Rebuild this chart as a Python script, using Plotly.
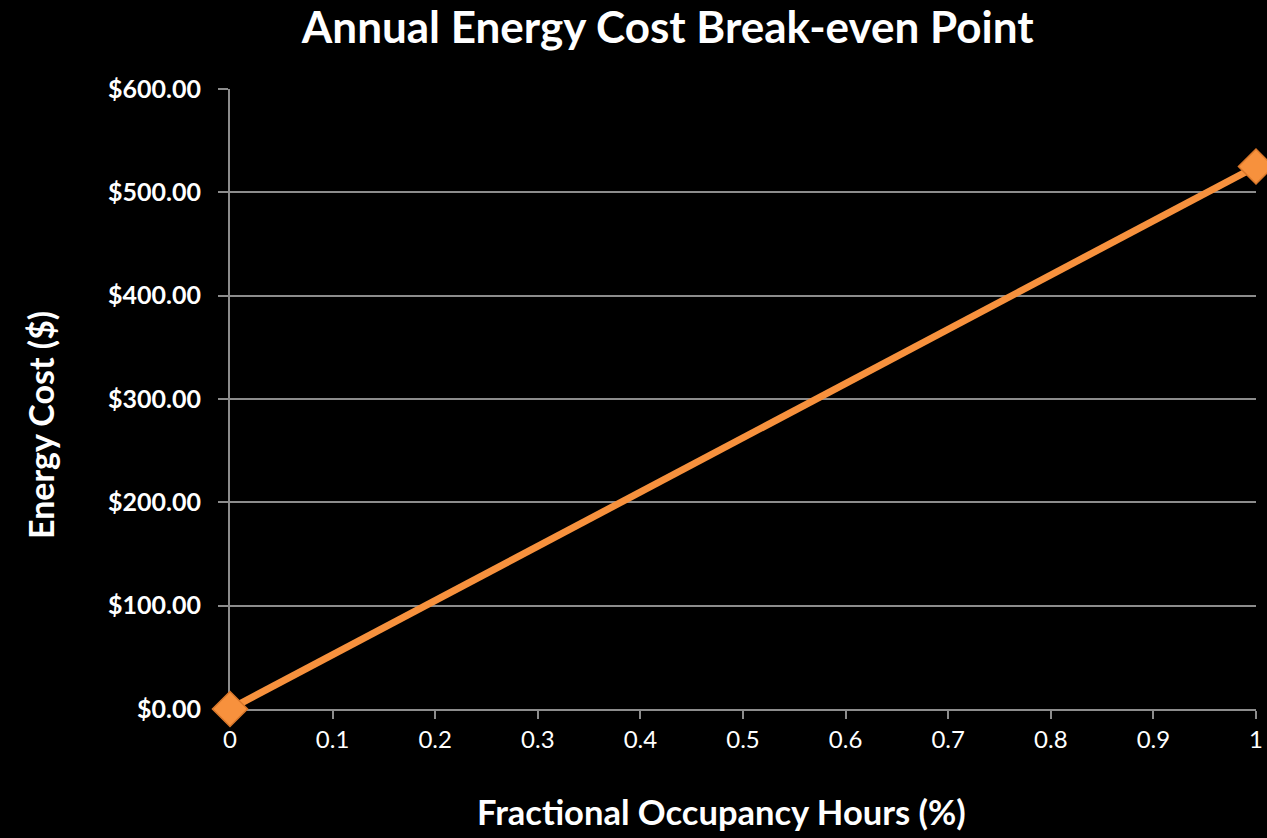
import plotly.graph_objects as go

# Break-even line: energy cost vs. fractional occupancy hours
occupancy = [0, 1]
energy_cost = [0, 525]

x_ticks = [0, 0.1, 0.2, 0.3, 0.4, 0.5, 0.6, 0.7, 0.8, 0.9, 1]
x_tick_text = ["0", "0.1", "0.2", "0.3", "0.4", "0.5", "0.6", "0.7", "0.8", "0.9", "1"]
y_ticks = [0, 100, 200, 300, 400, 500, 600]
y_tick_text = ["$0.00", "$100.00", "$200.00", "$300.00", "$400.00", "$500.00", "$600.00"]

FONT = "Lato"
ORANGE = "#F7913D"
GRID = "#8C8C8C"

W, H = 1267, 838
M = dict(l=230, r=11, t=89, b=129)

fig = go.Figure()
fig.add_trace(go.Scatter(
    x=occupancy,
    y=energy_cost,
    mode="lines+markers",
    line=dict(color=ORANGE, width=7),
    marker=dict(symbol="diamond", size=27, color=ORANGE,
                line=dict(color="#D9772A", width=1.5)),
    cliponaxis=False,
    showlegend=False,
))

fig.update_layout(
    width=W,
    height=H,
    paper_bgcolor="black",
    plot_bgcolor="black",
    margin=M,
    title=dict(
        text="<b>Annual Energy Cost Break-even Point</b>",
        x=0.527, xanchor="center",
        y=0.967, yanchor="middle",
        font=dict(family=FONT, size=44, color="white"),
    ),
    font=dict(family=FONT, color="white"),
)

# Axis titles placed as paper-anchored annotations
fig.add_annotation(
    text="<b>Fractional Occupancy Hours (%)</b>",
    xref="paper", yref="paper",
    x=(721 - M["l"]) / (W - M["l"] - M["r"]),
    y=-(812 - (H - M["b"])) / (H - M["t"] - M["b"]),
    xanchor="center", yanchor="middle", showarrow=False,
    font=dict(family=FONT, size=34.5, color="white"),
)
fig.add_annotation(
    text="<b>Energy Cost ($)</b>",
    xref="paper", yref="paper",
    x=-(M["l"] - 40) / (W - M["l"] - M["r"]),
    y=((H - M["b"]) - 425) / (H - M["t"] - M["b"]),
    xanchor="center", yanchor="middle", showarrow=False, textangle=-90,
    font=dict(family=FONT, size=34, color="white"),
)

fig.update_xaxes(
    range=[0, 1],
    tickvals=x_ticks,
    ticktext=x_tick_text,
    tickfont=dict(family=FONT, size=24, color="white"),
    showgrid=False,
    zeroline=False,
    showline=True,
    linecolor=GRID,
    linewidth=2,
    ticks="outside",
    ticklen=8,
    tickwidth=2,
    tickcolor=GRID,
    automargin=False,
    layer="below traces",
)

fig.update_yaxes(
    range=[0, 600],
    tickvals=y_ticks,
    ticktext=[f"<b>{t}</b>" for t in y_tick_text],
    tickfont=dict(family=FONT, size=25, color="white"),
    ticklabelstandoff=12,
    showgrid=True,
    gridcolor=GRID,
    gridwidth=1.5,
    zeroline=False,
    showline=True,
    linecolor=GRID,
    linewidth=2,
    ticks="outside",
    ticklen=10,
    tickwidth=2,
    tickcolor=GRID,
    automargin=False,
    layer="below traces",
)

fig.write_html("out.html")
